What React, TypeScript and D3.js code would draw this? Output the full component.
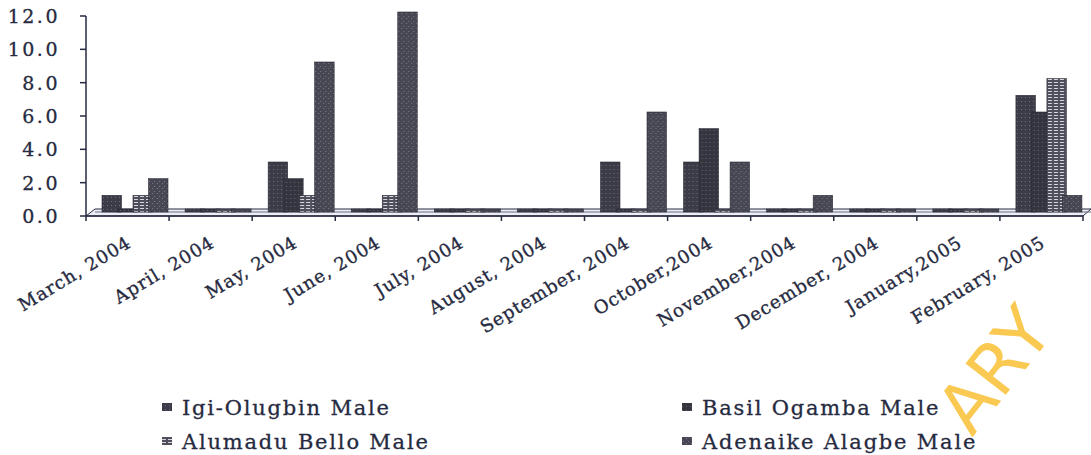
import React from 'react'
import * as d3 from 'd3'

const months = ['March, 2004', 'April, 2004', 'May, 2004', 'June, 2004', 'July, 2004', 'August, 2004',
  'September, 2004', 'October,2004', 'November,2004', 'December, 2004', 'January,2005', 'February, 2005']
const seriesNames = ['Igi-Olugbin Male', 'Basil Ogamba Male', 'Alumadu Bello Male', 'Adenaike Alagbe Male']
const igiOlugbin = [1, 0, 3, 0, 0, 0, 3, 3, 0, 0, 0, 7]
const basilOgamba = [0, 0, 2, 0, 0, 0, 0, 5, 0, 0, 0, 6]
const alumaduBello = [1, 0, 1, 1, 0, 0, 0, 0, 0, 0, 0, 8]
const adenaikeAlagbe = [2, 0, 9, 12, 0, 0, 6, 3, 1, 0, 0, 1]
const yTicks = [0, 2, 4, 6, 8, 10, 12]

const W = 1091, H = 455
const ink = '#262a40'
const fills = ['url(#speckA)', 'url(#speckB)', 'url(#hatch)', 'url(#speckC)']

export default function App() {
  const values = [igiOlugbin, basilOgamba, alumaduBello, adenaikeAlagbe]
  const x = d3.scaleBand().domain(months).range([86, 1083])
  const inner = d3.scaleBand().domain(seriesNames).range([16, 78])
  const y = d3.scaleLinear().domain([0, 12]).range([216, 16])
  const depth = 4
  const barW = 19.5
  const ends = [...months.map(m => x(m)!), 1083]

  return (
    <svg width={W} height={H} style={{ position: 'absolute', left: 0, top: 0, background: '#fff' }}>
      <defs>
        <pattern id="speckA" width="4" height="4" patternUnits="userSpaceOnUse">
          <rect width="4" height="4" fill="#3b3c47" />
          <rect x="1" y="1" width="1" height="1" fill="#6c6d78" />
        </pattern>
        <pattern id="speckB" width="4" height="4" patternUnits="userSpaceOnUse">
          <rect width="4" height="4" fill="#34353f" />
          <rect x="2" y="2" width="1" height="1" fill="#62636e" />
        </pattern>
        <pattern id="speckC" width="5" height="5" patternUnits="userSpaceOnUse">
          <rect width="5" height="5" fill="#464752" />
          <rect x="1" y="3" width="1" height="1" fill="#7a7b86" />
          <rect x="3" y="1" width="1" height="1" fill="#777884" />
        </pattern>
        <pattern id="hatch" width="6" height="3" patternUnits="userSpaceOnUse">
          <rect width="6" height="3" fill="#4e4f5a" />
          <rect x="0" y="1" width="4" height="1" fill="#d6d7de" />
        </pattern>
      </defs>

      {/* floor */}
      <polygon points={`86,${y(0)} ${86 + 9},${y(0) - 7} ${W},${y(0) - 7} ${1083},${y(0)}`}
        fill="#eceef3" stroke={ink} strokeWidth={1} />
      <line x1={95} x2={W} y1={y(0) - 4} y2={y(0) - 4} stroke="#6a6e84" strokeWidth={1} />

      {/* axes */}
      <line x1={86} x2={86} y1={y(12)} y2={y(0)} stroke={ink} strokeWidth={1.5} />
      <line x1={86} x2={1083} y1={y(0)} y2={y(0)} stroke={ink} strokeWidth={1.5} />
      {yTicks.map(t => (
        <g key={t}>
          <line x1={80} x2={86} y1={y(t)} y2={y(t)} stroke={ink} strokeWidth={1.5} />
          <text x={60} y={y(t)} dy="0.36em" textAnchor="end" fontFamily="DejaVu Serif" fontSize={19}
            letterSpacing={2.5} fill={ink} stroke={ink} strokeWidth={0.3}>{t.toFixed(1)}</text>
        </g>
      ))}
      {ends.map((e, i) => (
        <line key={i} x1={e} x2={e} y1={y(0)} y2={y(0) + 5} stroke={ink} strokeWidth={1.5} />
      ))}

      {/* bars */}
      {months.map((m, i) => (
        <g key={m} transform={`translate(${x(m)},0)`}>
          {seriesNames.map((s, k) => {
            const v = values[k][i]
            const top = v === 0 ? y(0) - depth - 3 : y(v) - depth
            const h = y(0) - depth - top
            return <rect key={s} x={inner(s)} y={top} width={barW} height={h}
              fill={fills[k]} stroke="#2a2b36" strokeWidth={0.6} />
          })}
        </g>
      ))}

      {/* month labels */}
      {months.map(m => {
        const cx = x(m)! + x.bandwidth() / 2
        return (
          <text key={m} transform={`translate(${cx + 5},246) rotate(-31)`} textAnchor="end"
            fontFamily="DejaVu Serif" fontSize={18} letterSpacing={1} fill={ink}
            stroke={ink} strokeWidth={0.35}>{m}</text>
        )
      })}

      {/* legend */}
      {seriesNames.map((s, k) => {
        const lx = k % 2 === 0 ? 162 : 682
        const ly = k < 2 ? 408 : 442
        return (
          <g key={s}>
            <rect x={lx} y={ly - 5} width={10} height={8} fill={fills[k]} />
            <text x={lx + 20} y={ly} dy="0.35em" fontFamily="DejaVu Sans" fontSize={21}
              letterSpacing={1.8} fill={ink} stroke={ink} strokeWidth={0.3}
              style={{ fontFamily: 'DejaVu Serif' }}>{s}</text>
          </g>
        )
      })}

      {/* scanned watermark */}
      <text transform="translate(972,438) rotate(-52)" fontFamily="DejaVu Sans" fontSize={70}
        fill="#f9c440" opacity={0.9}>ARY</text>
    </svg>
  )
}
